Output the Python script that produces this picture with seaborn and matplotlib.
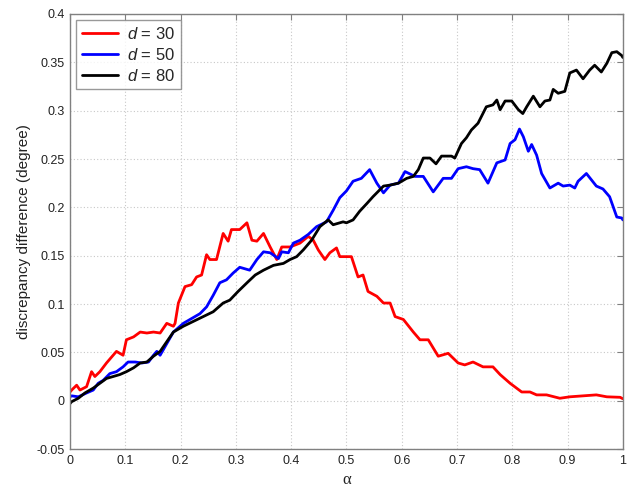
import numpy as np
import pandas as pd
import matplotlib
matplotlib.use("Agg")
import matplotlib.pyplot as plt
import seaborn as sns

x30 = [0.0, 0.003, 0.012, 0.018, 0.030, 0.039, 0.045, 0.054, 0.066, 0.084, 0.096, 0.102, 0.115, 0.127, 0.139,
       0.151, 0.163, 0.175, 0.187, 0.190, 0.196, 0.208, 0.220, 0.229, 0.238, 0.247, 0.253, 0.265, 0.277, 0.286,
       0.292, 0.307, 0.320, 0.329, 0.338, 0.350, 0.362, 0.374, 0.383, 0.398, 0.416, 0.431, 0.440, 0.449, 0.461,
       0.470, 0.482, 0.488, 0.509, 0.521, 0.530, 0.539, 0.555, 0.567, 0.579, 0.588, 0.603, 0.621, 0.633, 0.648,
       0.666, 0.684, 0.702, 0.714, 0.729, 0.747, 0.765, 0.778, 0.796, 0.817, 0.832, 0.844, 0.862, 0.886, 0.904,
       0.928, 0.952, 0.971, 0.995, 1.0]
y30 = [0.009, 0.011, 0.016, 0.011, 0.0145, 0.030, 0.025, 0.030, 0.039, 0.051, 0.047, 0.063, 0.066, 0.071, 0.070,
       0.071, 0.070, 0.080, 0.077, 0.080, 0.101, 0.118, 0.120, 0.128, 0.130, 0.151, 0.146, 0.146, 0.173, 0.165,
       0.177, 0.177, 0.184, 0.166, 0.165, 0.173, 0.159, 0.146, 0.159, 0.159, 0.163, 0.170, 0.166, 0.156, 0.146,
       0.153, 0.158, 0.149, 0.149, 0.128, 0.130, 0.113, 0.108, 0.101, 0.101, 0.087, 0.084, 0.071, 0.063, 0.063,
       0.046, 0.049, 0.039, 0.037, 0.040, 0.035, 0.035, 0.027, 0.018, 0.009, 0.009, 0.006, 0.006, 0.0025, 0.004,
       0.005, 0.006, 0.004, 0.0035, 0.002]

x50 = [0.0, 0.003, 0.015, 0.030, 0.042, 0.051, 0.060, 0.072, 0.084, 0.096, 0.105, 0.118, 0.130, 0.142, 0.151,
       0.157, 0.163, 0.175, 0.187, 0.205, 0.220, 0.235, 0.247, 0.259, 0.271, 0.283, 0.295, 0.307, 0.325, 0.338,
       0.350, 0.362, 0.377, 0.383, 0.395, 0.404, 0.416, 0.431, 0.446, 0.464, 0.476, 0.488, 0.500, 0.512, 0.527,
       0.542, 0.555, 0.567, 0.579, 0.594, 0.606, 0.624, 0.639, 0.657, 0.675, 0.690, 0.702, 0.717, 0.729, 0.741,
       0.756, 0.772, 0.787, 0.796, 0.805, 0.813, 0.820, 0.829, 0.835, 0.844, 0.853, 0.868, 0.883, 0.892, 0.904,
       0.913, 0.919, 0.934, 0.952, 0.964, 0.976, 0.989, 0.998, 1.0]
y50 = [0.004, 0.005, 0.004, 0.008, 0.011, 0.018, 0.021, 0.028, 0.030, 0.035, 0.040, 0.040, 0.039, 0.040, 0.047,
       0.051, 0.047, 0.059, 0.071, 0.080, 0.085, 0.090, 0.097, 0.109, 0.122, 0.125, 0.132, 0.138, 0.135, 0.146,
       0.154, 0.153, 0.147, 0.154, 0.153, 0.163, 0.166, 0.172, 0.180, 0.185, 0.197, 0.210, 0.217, 0.227, 0.230,
       0.239, 0.225, 0.215, 0.223, 0.225, 0.237, 0.232, 0.232, 0.216, 0.230, 0.230, 0.240, 0.242, 0.240, 0.239,
       0.225, 0.246, 0.249, 0.266, 0.270, 0.281, 0.273, 0.258, 0.265, 0.254, 0.235, 0.220, 0.225, 0.222, 0.223,
       0.220, 0.227, 0.235, 0.222, 0.219, 0.211, 0.190, 0.189, 0.187]

x80 = [0.0, 0.003, 0.015, 0.027, 0.042, 0.054, 0.066, 0.078, 0.090, 0.102, 0.115, 0.127, 0.139, 0.151, 0.163,
       0.175, 0.187, 0.205, 0.223, 0.241, 0.259, 0.277, 0.289, 0.304, 0.322, 0.335, 0.350, 0.368, 0.386, 0.398,
       0.410, 0.422, 0.437, 0.452, 0.467, 0.476, 0.494, 0.500, 0.512, 0.524, 0.537, 0.548, 0.567, 0.579, 0.594,
       0.609, 0.621, 0.630, 0.639, 0.651, 0.662, 0.672, 0.690, 0.696, 0.708, 0.717, 0.726, 0.738, 0.753, 0.765,
       0.772, 0.778, 0.787, 0.799, 0.811, 0.819, 0.826, 0.838, 0.850, 0.859, 0.868, 0.874, 0.883, 0.895, 0.904,
       0.916, 0.928, 0.940, 0.949, 0.961, 0.971, 0.980, 0.989, 0.998, 1.0]
y80 = [-0.003, -0.001, 0.0025, 0.008, 0.013, 0.018, 0.023, 0.025, 0.027, 0.030, 0.034, 0.039, 0.040, 0.046, 0.051,
       0.061, 0.071, 0.077, 0.082, 0.087, 0.092, 0.101, 0.104, 0.113, 0.123, 0.130, 0.135, 0.140, 0.142, 0.146,
       0.149, 0.156, 0.166, 0.180, 0.187, 0.182, 0.185, 0.184, 0.187, 0.196, 0.204, 0.211, 0.222, 0.223, 0.225,
       0.230, 0.232, 0.239, 0.251, 0.251, 0.245, 0.253, 0.253, 0.251, 0.266, 0.272, 0.280, 0.287, 0.304, 0.306,
       0.311, 0.301, 0.310, 0.310, 0.301, 0.297, 0.304, 0.315, 0.304, 0.310, 0.311, 0.322, 0.318, 0.320, 0.339,
       0.342, 0.333, 0.342, 0.347, 0.340, 0.349, 0.360, 0.361, 0.357, 0.355]

labels = ["$d$ = 30", "$d$ = 50", "$d$ = 80"]
colors = ["#ff0000", "#0000ff", "#000000"]

xticks = [0, 0.1, 0.2, 0.3, 0.4, 0.5, 0.6, 0.7, 0.8, 0.9, 1]
xticklabels = ["0", "0.1", "0.2", "0.3", "0.4", "0.5", "0.6", "0.7", "0.8", "0.9", "1"]
yticks = [-0.05, 0, 0.05, 0.1, 0.15, 0.2, 0.25, 0.3, 0.35, 0.4]
yticklabels = ["-0.05", "0", "0.05", "0.1", "0.15", "0.2", "0.25", "0.3", "0.35", "0.4"]

df = pd.concat([
    pd.DataFrame({"alpha": x30, "val": y30, "series": labels[0]}),
    pd.DataFrame({"alpha": x50, "val": y50, "series": labels[1]}),
    pd.DataFrame({"alpha": x80, "val": y80, "series": labels[2]}),
], ignore_index=True)

sns.set_style("white")
plt.rcParams["font.family"] = ["Liberation Sans", "DejaVu Sans"]
plt.rcParams["mathtext.fontset"] = "custom"
plt.rcParams["mathtext.it"] = "Liberation Sans:italic"
plt.rcParams["mathtext.rm"] = "Liberation Sans"

fig = plt.figure(figsize=(6.33, 4.91), dpi=100)
ax = fig.add_axes([0.1106, 0.0855, 0.8734, 0.886])

sns.lineplot(data=df, x="alpha", y="val", hue="series", palette=colors, hue_order=labels,
             estimator=None, sort=False, linewidth=2.0, ax=ax)

ax.set_xlim(0, 1)
ax.set_ylim(-0.05, 0.4)
ax.set_xticks(xticks)
ax.set_xticklabels(xticklabels)
ax.set_yticks(yticks)
ax.set_yticklabels(yticklabels)
ax.grid(True, linestyle=(0, (1, 2)), color="#c8c8c8", linewidth=0.8)
ax.tick_params(direction="in", length=4, top=True, right=True, labelsize=9,
               color="#808080", labelcolor="#222222", pad=4)
for s in ax.spines.values():
    s.set_color("#808080")
    s.set_linewidth(1.0)
ax.set_xlabel("α", fontsize=12, color="#222222", labelpad=4,
              family=["Liberation Serif", "DejaVu Serif"])
ax.set_ylabel("discrepancy difference (degree)", fontsize=11, color="#222222", labelpad=4)

leg = ax.legend(loc="upper left", fontsize=12, frameon=True, fancybox=False,
                edgecolor="#808080", handlelength=2.2, borderaxespad=0.35,
                labelspacing=0.3, borderpad=0.35, handletextpad=0.5)
leg.get_frame().set_linewidth(1.0)
for line in leg.get_lines():
    line.set_linewidth(2.0)

fig.savefig("out.png", dpi=100)
